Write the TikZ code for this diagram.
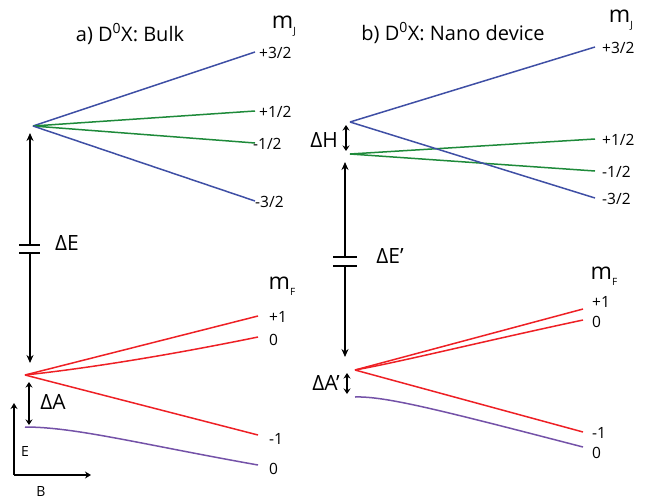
\documentclass[tikz,border=0pt]{standalone}
\usepackage{fontspec}
\setmainfont{Open Sans}
\usetikzlibrary{arrows.meta,positioning,calc}
\definecolor{lvBlue}{HTML}{3F4FA5}
\definecolor{lvGreen}{HTML}{1E8A3A}
\definecolor{lvRed}{HTML}{EE2025}
\definecolor{lvPurple}{HTML}{7452A8}
\newcommand{\qnum}[1]{m\raisebox{-0.45ex}{\fontsize{10}{10}\selectfont #1}}

\begin{document}
\begin{tikzpicture}[x=1pt,y=-1pt,
  lvl/.style={line width=1.5pt},
  gaparrow/.style={line width=2.4pt,-{Stealth[length=8pt,width=7pt]}},
  splitarrow/.style={line width=2.4pt,{Stealth[length=5.5pt,width=7pt]}-{Stealth[length=5.5pt,width=7pt]}},
  bar/.style={line width=2.4pt},
  tag/.style={anchor=west,inner sep=0pt,font=\fontsize{15.5}{15.5}\selectfont},
  big/.style={inner sep=0pt,font=\fontsize{21}{21}\selectfont},
  qlab/.style={inner sep=0pt,font=\fontsize{23}{23}\selectfont},
  head/.style={inner sep=0pt,font=\fontsize{20}{20}\selectfont}]
\useasboundingbox (0,0) rectangle (647,498);

% a) bulk
\node[head] (titleA) at (130,34) {a) D\textsuperscript{0}X: Bulk};
\node[qlab] (mJa) at (284,26) {\qnum{J}};
\coordinate (Ja) at (33,126);
\foreach \y/\n/\col/\x/\lab in {52/1/lvBlue/259/{+3/2},111/2/lvGreen/259/{+1/2},143/3/lvGreen/253/{-1/2},201/4/lvBlue/255/{-3/2}}{
  \coordinate (Ja\n) at (255,\y);
  \draw[lvl,\col] (Ja) -- (Ja\n);
  \node[tag] (tJa\n) at (\x,\y+1) {\lab};}
\node[qlab] (mFa) at (282,286) {\qnum{F}};
\coordinate (Fa) at (25,375);
\coordinate (Fa1) at (258,316);
\coordinate (Fa2) at (258,337);
\coordinate (Fa3) at (258,435);
\coordinate (Fa0) at (25,427);
\coordinate (Fa4) at (258,465);
\draw[lvl,lvRed] (Fa) -- (Fa1);
\draw[lvl,lvRed] (Fa) .. controls (90,368) and (170,355) .. (Fa2);
\draw[lvl,lvRed] (Fa) -- (Fa3);
\draw[lvl,lvPurple] (Fa0) .. controls (75,427) and (140,444) .. (Fa4);
\foreach \y/\n/\lab in {317/1/+1,340/2/0,439/3/-1,469/4/0}
  \node[tag] (tFa\n) at (269,\y) {\lab};

\coordinate (dEa1) at (30,133);
\coordinate (dEa2) at (30,245);
\coordinate (dEa3) at (30,253);
\coordinate (dEa4) at (30,363);
\draw[gaparrow] (dEa2) -- (dEa1);
\draw[gaparrow] (dEa3) -- (dEa4);
\draw[bar] ($(dEa2)+(-11,0)$) -- ($(dEa2)+(10,0)$);
\draw[bar] ($(dEa3)+(-11,0)$) -- ($(dEa3)+(10,0)$);
\node[big] (dEa) at (67,243) {ΔE};
\coordinate (dAa1) at (29,382);
\coordinate (dAa2) at (29,425);
\draw[splitarrow] (dAa1) -- (dAa2);
\node[big] (dAa) at (53,402) {ΔA};

\coordinate (org) at (14,475);
\coordinate (Eax) at (14,403);
\coordinate (Bax) at (91,475);
\draw[line width=2.2pt,-{Stealth[length=6pt,width=7pt]}] (org) -- (Eax);
\draw[line width=2.2pt,-{Stealth[length=6pt,width=7pt]}] (org) -- (Bax);
\node[tag,anchor=center,font=\fontsize{14}{14}\selectfont] (Elab) at (25,451) {E};
\node[tag,anchor=center,font=\fontsize{14}{14}\selectfont] (Blab) at (41,491) {B};

% b) nano device
\node[head] (titleB) at (453,33) {b) D\textsuperscript{0}X: Nano device};
\node[qlab] (mJb) at (621,20) {\qnum{J}};
\coordinate (Jb) at (350,122);
\coordinate (Hb) at (350,154);
\foreach \v/\y/\n/\col/\lab in {Jb/47/1/lvBlue/{+3/2},Hb/139/2/lvGreen/{+1/2},Hb/171/3/lvGreen/{-1/2},Jb/198/4/lvBlue/{-3/2}}{
  \coordinate (Jb\n) at (595,\y);
  \draw[lvl,\col] (\v) -- (Jb\n);
  \node[tag] (tJb\n) at (602,\y+1) {\lab};}
\node[qlab] (mFb) at (604,276) {\qnum{F}};
\coordinate (Fb) at (355,370);
\coordinate (Fb1) at (583,309);
\coordinate (Fb2) at (583,320);
\coordinate (Fb3) at (583,432);
\coordinate (Fb0) at (355,397);
\coordinate (Fb4) at (583,447);
\draw[lvl,lvRed] (Fb) -- (Fb1);
\draw[lvl,lvRed] (Fb) .. controls (400,362) and (480,342) .. (Fb2);
\draw[lvl,lvRed] (Fb) -- (Fb3);
\draw[lvl,lvPurple] (Fb0) .. controls (385,396) and (440,410) .. (Fb4);
\foreach \y/\n/\lab in {302/1/+1,322/2/0,433/3/-1,453/4/0}
  \node[tag] (tFb\n) at (592,\y) {\lab};

\coordinate (dHb1) at (346,125);
\coordinate (dHb2) at (346,151);
\draw[splitarrow] (dHb1) -- (dHb2);
\node[big] (dHb) at (324,140) {ΔH};
\coordinate (dEb1) at (345,162);
\coordinate (dEb2) at (345,257);
\coordinate (dEb3) at (345,266);
\coordinate (dEb4) at (345,357);
\draw[gaparrow] (dEb2) -- (dEb1);
\draw[gaparrow] (dEb3) -- (dEb4);
\draw[bar] ($(dEb2)+(-12,0)$) -- ($(dEb2)+(12,0)$);
\draw[bar] ($(dEb3)+(-12,0)$) -- ($(dEb3)+(12,0)$);
\node[big] (dEb) at (390,256) {ΔE’};
\coordinate (dAb1) at (347,373);
\coordinate (dAb2) at (347,394);
\draw[splitarrow] (dAb1) -- (dAb2);
\node[big] (dAb) at (326,383) {ΔA’};
\end{tikzpicture}
\end{document}
